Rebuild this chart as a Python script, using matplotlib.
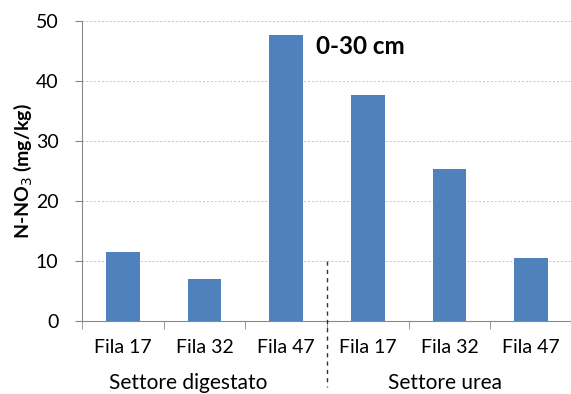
import matplotlib.pyplot as plt

plt.rcParams['font.family'] = ['Lato', 'DejaVu Sans']

# N-NO3 in the 0-30 cm layer, by row and sector
rows = ['Fila 17', 'Fila 32', 'Fila 47', 'Fila 17', 'Fila 32', 'Fila 47']
sectors = ['Settore digestato', 'Settore urea']
nno3 = [11.5, 7.0, 47.7, 37.7, 25.3, 10.5]
y_ticks = [0, 10, 20, 30, 40, 50]

fig = plt.figure(figsize=(5.71, 3.94), dpi=100)
ax = fig.add_axes([0.1436, 0.1853, 0.858, 0.7614])

x = list(range(len(rows)))
ax.bar(x, nno3, width=0.41, color='#4F81BD', zorder=3)

ax.set_xlim(-0.5, 5.5)
ax.set_ylim(0, 50)
ax.set_yticks(y_ticks)
ax.set_xticks(x)
ax.set_xticklabels(rows, fontsize=14)
ax.set_xticks([i - 0.5 for i in range(len(rows) + 1)], minor=True)
ax.tick_params(axis='x', which='major', length=0, pad=13)
ax.tick_params(axis='x', which='minor', length=6, color='#888888')
ax.tick_params(axis='y', length=5, color='#888888', labelsize=14, pad=12)

ax.grid(axis='y', linestyle=(0, (2, 2)), color='#c4c4c4', linewidth=0.7, zorder=0)
for side in ['top', 'right']:
    ax.spines[side].set_visible(False)
for side in ['left', 'bottom']:
    ax.spines[side].set_color('#888888')

ax.set_ylabel('N-NO$_3$ (mg/kg)', fontsize=14, fontweight='bold', labelpad=1)

# sector separator and labels under the row names
ax.plot([2.5, 2.5], [10, -11], color='#333333', linestyle=(0, (3, 3)),
        linewidth=1, clip_on=False, zorder=4)
shifts = [-12, -3]
for i, name in enumerate(sectors):
    ax.annotate(name, xy=(1 + 3 * i, 0), xycoords='data',
                xytext=(shifts[i], -45), textcoords='offset points',
                ha='center', va='center', fontsize=15, annotation_clip=False)

ax.text(2.36, 45.7, '0-30 cm', fontsize=17.5, fontweight='bold', va='center')

fig.savefig('out.png', dpi=100)
